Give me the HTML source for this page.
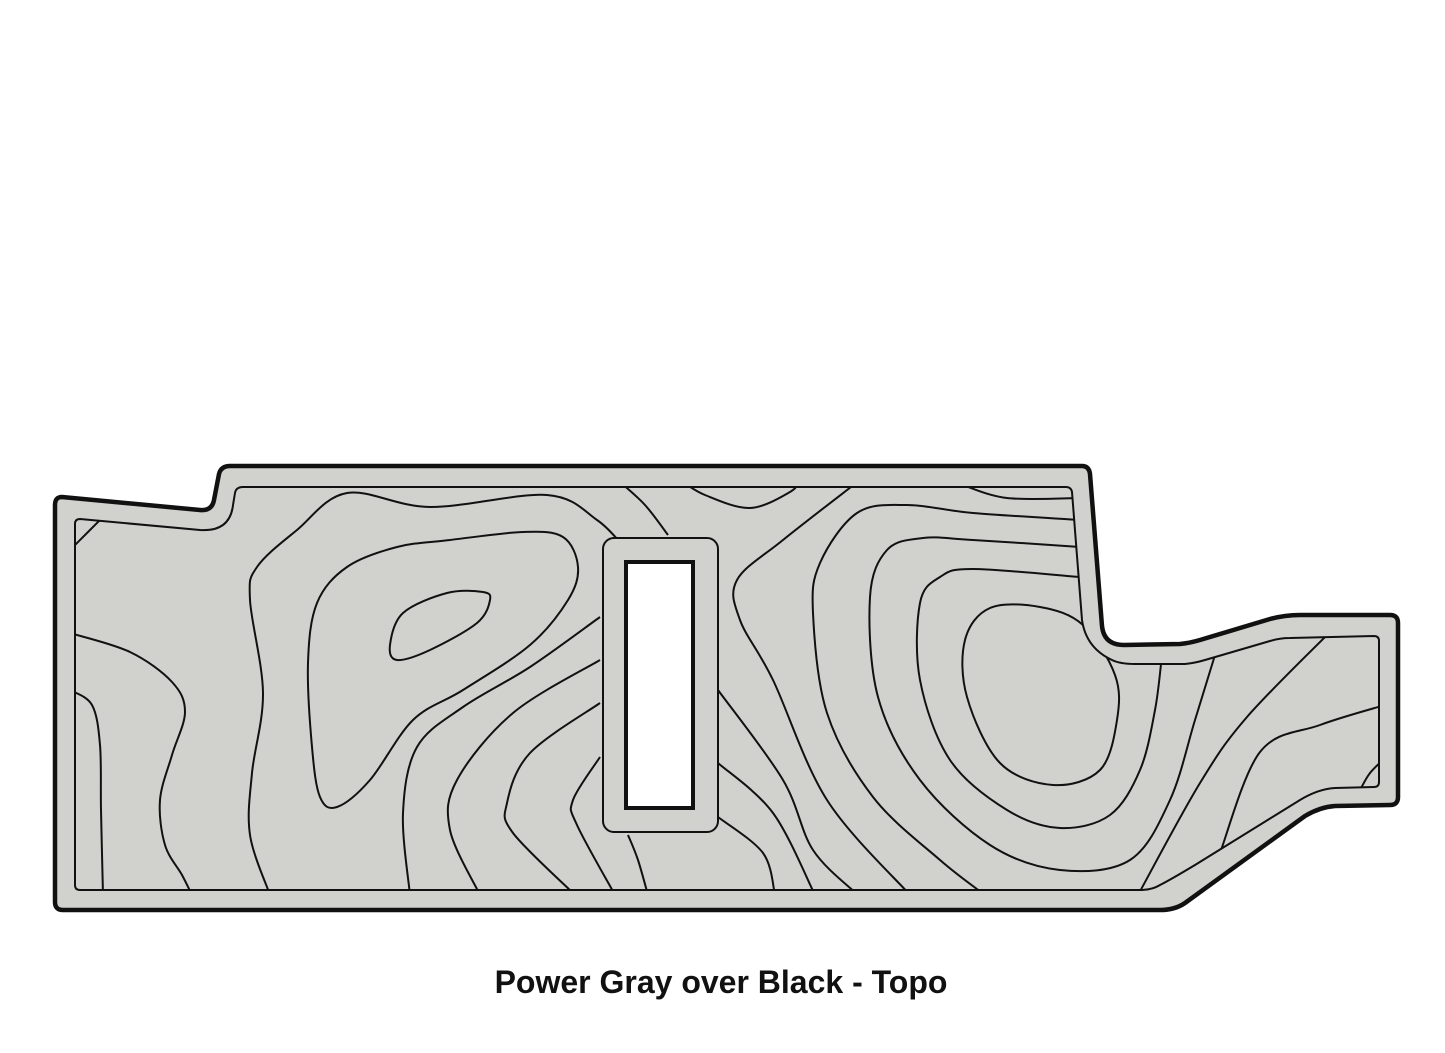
<!DOCTYPE html>
<html><head><meta charset="utf-8"><style>
html,body{margin:0;padding:0;background:#fff;}
svg{display:block;}
</style></head><body>
<svg id="s" width="1445" height="1053" viewBox="0 0 1445 1053" xmlns="http://www.w3.org/2000/svg">
<defs>
<clipPath id="c"><path id="innerClip" d=""/></clipPath>
</defs>
<path id="outer" fill="#d1d1cd" stroke="#111" stroke-width="4.5" stroke-linejoin="round" d="M62,497 L200,510 Q212,511 214,500 L219,474 Q221,466 230,466 L1082,466 Q1089,466 1090,474 L1102,626 Q1104,645 1124,645 L1180,644 Q1190,643 1200,640 L1270,619 Q1285,615 1300,615 L1390,615 Q1398,615 1398,623 L1398,797 Q1398,805 1390,805 L1335,806 Q1320,807 1305,816 L1185,903 Q1175,910 1160,910 L63,910 Q55,910 55,902 L55,505 Q55,497 62,497 Z"/>
<path id="inner" fill="none" stroke="#111" stroke-width="2" stroke-linejoin="round" d="M80,519 L200,530 Q230,532 233,505 L235,493 Q236,487 243,487 L1066,487 Q1071,487 1072,492 L1082,620 Q1086,648 1112,660 Q1120,664 1135,664 L1185,664 Q1195,663 1205,660 L1270,641 Q1280,638 1290,638 L1374,636 Q1379,636 1379,641 L1379,782 Q1379,787 1374,787 L1335,788 Q1318,789 1300,800 L1195,865 Q1170,880 1160,885 Q1152,890 1140,890 L80,890 Q75,890 75,885 L75,524 Q75,519 80,519 Z"/>
<g id="lines" clip-path="url(#c)" fill="none" stroke="#111" stroke-width="2"></g>
<rect x="603" y="538" width="115" height="294" rx="11" fill="#d1d1cd" stroke="#111" stroke-width="2"/>
<rect x="626" y="562" width="67" height="246" fill="#fff" stroke="#111" stroke-width="4"/>
<text x="721" y="993" text-anchor="middle" font-family="Liberation Sans, sans-serif" font-weight="bold" font-size="32" fill="#111">Power Gray over Black - Topo</text>
</svg>
<script>
document.getElementById('innerClip').setAttribute('d',document.getElementById('inner').getAttribute('d'));
function cr(p,closed){
  var d='M'+p[0][0]+','+p[0][1];
  var n=p.length;
  for(var i=0;i<(closed?n:n-1);i++){
    var p0=p[closed?(i-1+n)%n:Math.max(i-1,0)],p1=p[i],p2=p[(i+1)%n],p3=p[closed?(i+2)%n:Math.min(i+2,n-1)];
    var c1=[p1[0]+(p2[0]-p0[0])/6,p1[1]+(p2[1]-p0[1])/6];
    var c2=[p2[0]-(p3[0]-p1[0])/6,p2[1]-(p3[1]-p1[1])/6];
    d+=' C'+c1[0].toFixed(1)+','+c1[1].toFixed(1)+' '+c2[0].toFixed(1)+','+c2[1].toFixed(1)+' '+p2[0]+','+p2[1];
  }
  return d+(closed?'Z':'');
}
var L=[
 [[70,550],[88,532],[106,514]],
 [[70,633],[130,652],[172,682],[185,712],[172,755],[160,800],[165,845],[182,875],[192,895]],
 [[70,690],[92,705],[100,745],[101,810],[103,895]],
 [[270,895],[250,835],[252,773],[263,693],[250,600],[257,567],[297,530],[347,493],[430,507],[547,495],[597,520],[625,548]],
 [[600,617],[530,667],[463,707],[417,747],[403,813],[410,895]],
 [[600,660],[513,713],[457,780],[450,830],[480,895]],
 [[600,703],[530,753],[507,803],[513,833],[575,895]],
 [[600,757],[573,800],[577,825],[615,895]],
 [[628,835],[638,860],[648,895]],
 [[620,482],[645,505],[668,535]],
 [[680,480],[705,495],[750,508],[790,492],[800,480]],
 [[860,480],[783,540],[737,580],[740,620],[773,680],[827,800],[910,895]],
 [[718,690],[783,780],[813,850],[858,895]],
 [[718,763],[773,813],[815,895]],
 [[718,817],[763,853],[775,895]],
 [[960,484],[1007,498],[1080,498]],
 [[1080,520],[973,513],[907,505],[857,513],[820,563],[813,613],[827,713],[873,797],[940,860],[985,895]],
 [[1080,547],[973,540],[923,538],[887,550],[870,597],[878,697],[920,780],[990,845],[1060,870],[1130,860],[1170,800],[1195,720],[1215,655]],
 [[1080,577],[973,569],[940,577],[920,603],[920,680],[950,760],[1007,810],[1060,828],[1110,815],[1140,770],[1155,710],[1162,655]],
 [[1138,895],[1200,783],[1247,717],[1330,632]],
 [[1220,853],[1260,752],[1320,725],[1385,705]],
 [[1360,790],[1370,773],[1385,758]]
];
var g=document.getElementById('lines'),ns='http://www.w3.org/2000/svg';
L.forEach(function(p){var e=document.createElementNS(ns,'path');e.setAttribute('d',cr(p,false));g.appendChild(e);});
var closedLoops=[
 [[397,660],[390,645],[403,613],[447,593],[483,592],[490,600],[477,623],[430,650]],
 [[1083,625],[1040,607],[990,608],[965,640],[967,697],[1000,763],[1053,785],[1100,770],[1117,720],[1115,675]],
 [[578,567],[563,537],[523,532],[450,540],[397,547],[347,567],[317,603],[308,663],[312,747],[320,797],[337,807],[370,780],[413,720],[463,690],[530,645],[568,600]]
];
closedLoops.forEach(function(p){var e=document.createElementNS(ns,'path');e.setAttribute('d',cr(p,true));g.appendChild(e);});
</script>
</body></html>
